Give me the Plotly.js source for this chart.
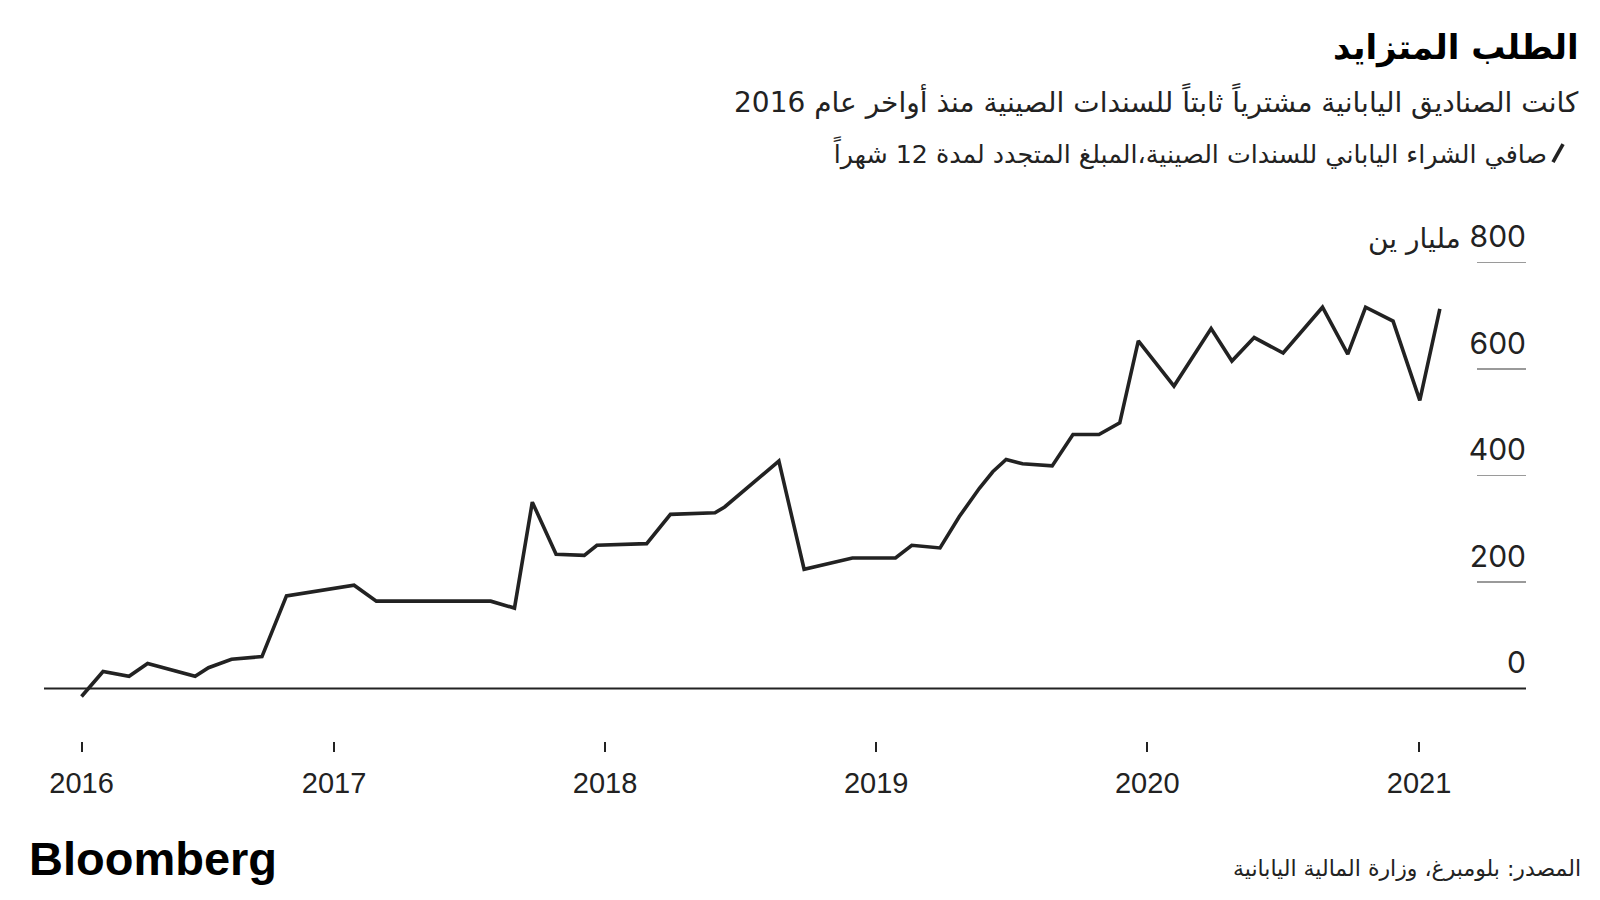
<!DOCTYPE html>
<html>
<head>
<meta charset="utf-8">
<script src="https://cdn.plot.ly/plotly-3.0.1.min.js"></script>
<style>html,body{margin:0;padding:0;background:#fff;}#chart{width:1600px;height:900px;}</style>
</head>
<body>
<div id="chart"></div>
<script>
// Data (12-month rolling net purchase, billion yen)
const dates = ['2016-01-27','2016-02-25','2016-03-31','2016-04-25','2016-06-28','2016-07-16','2016-08-16','2016-09-26','2016-10-29',
  '2017-01-28','2017-02-27','2017-07-31','2017-09-01','2017-09-25','2017-10-27','2017-12-04','2017-12-21',
  '2018-02-26','2018-03-30','2018-05-29','2018-06-11','2018-08-23','2018-09-26','2018-11-30',
  '2019-01-27','2019-02-18','2019-03-28','2019-04-23','2019-05-20','2019-06-07','2019-06-25','2019-07-17','2019-08-26','2019-09-23','2019-10-28','2019-11-25','2019-12-20',
  '2020-02-06','2020-03-27','2020-04-24','2020-05-24','2020-07-02','2020-08-24','2020-09-27','2020-10-21','2020-11-27',
  '2021-01-02','2021-01-29'];
const values = [-15,32,23,47,23,39,55,60,174,
  194,164,164,151,350,252,250,269,
  272,327,330,341,427,224,245,
  245,269,264,323,376,407,430,422,418,477,477,499,653,
  568,676,615,659,630,716,628,716,690,
  541,713];

const xTickVals = ['2016-01-27','2017-01-01','2018-01-01','2019-01-01','2020-01-01','2021-01-01'];
const xTickText = ['2016','2017','2018','2019','2020','2021'];
const yTickVals = [0,200,400,600,800];
const yTickText = ['0','200','400','600','800'];
const yUnit = 'مليار ين';

const titleText = 'الطلب المتزايد';
const subtitleText = 'كانت الصناديق اليابانية مشترياً ثابتاً للسندات الصينية منذ أواخر عام 2016';
const seriesName = 'صافي الشراء الياباني للسندات الصينية،المبلغ المتجدد لمدة 12 شهراً';
const sourceText = 'المصدر: بلومبرغ، وزارة المالية اليابانية';

const numFont = 'Liberation Sans, Arial, DejaVu Sans, sans-serif';
const yFont = 'Inter, Liberation Sans, sans-serif';
const arFont = 'DejaVu Sans, sans-serif';
const ink = '#222222';

const trace = {
  x: dates, y: values, type: 'scatter', mode: 'lines', name: seriesName,
  line: {color: ink, width: 3.6, shape: 'linear'},
  hoverinfo: 'x+y', showlegend: false
};

const layout = {
  width: 1600, height: 900,
  paper_bgcolor: '#ffffff', plot_bgcolor: '#ffffff',
  margin: {l: 44, r: 74, t: 200, b: 159},
  showlegend: false,
  xaxis: {
    type: 'date', range: ['2015-12-07 12:00', '2021-05-25'],
    tickmode: 'array', tickvals: xTickVals, ticktext: xTickText,
    ticks: 'outside', ticklen: 10, tickwidth: 2, tickcolor: ink,
    tickfont: {family: numFont, size: 29, color: ink},
    showgrid: false, zeroline: false, showline: false,
    ticklabelstandoff: 6
  },
  yaxis: {
    side: 'right', range: [-98.6, 917.4],
    tickmode: 'array', tickvals: yTickVals, ticktext: yTickText,
    ticks: 'inside', ticklen: 49, tickwidth: 1.5, tickcolor: '#9a9a9a',
    ticklabelposition: 'inside', ticklabelshift: -26, ticklabelstandoff: -46,
    tickfont: {family: yFont, size: 30, color: ink},
    showgrid: false, showline: false, zeroline: false
  },
  annotations: [
    {text: '<b>' + titleText + '</b>', xref: 'paper', yref: 'paper', x: 1.0372, y: 1.2828,
     xanchor: 'right', yanchor: 'middle', showarrow: false, font: {family: arFont, size: 34, color: '#000'}},
    {text: subtitleText, xref: 'paper', yref: 'paper', x: 1.0372, y: 1.183,
     xanchor: 'right', yanchor: 'middle', showarrow: false, font: {family: arFont, size: 28, color: ink}},
    {text: seriesName, xref: 'paper', yref: 'paper', x: 1.0155, y: 1.0869,
     xanchor: 'right', yanchor: 'middle', showarrow: false, font: {family: arFont, size: 25.3, color: ink}},
    {text: sourceText, xref: 'paper', yref: 'paper', x: 1.0385, y: -0.2348,
     xanchor: 'right', yanchor: 'middle', showarrow: false, font: {family: arFont, size: 22, color: ink}},
    {text: yUnit, xref: 'paper', yref: 'y', x: 0.9575, y: yTickVals[yTickVals.length - 1], yshift: 24,
     xanchor: 'right', yanchor: 'middle', showarrow: false, font: {family: arFont, size: 28, color: ink}},
    {text: '<b>Bloomberg</b>', xref: 'paper', yref: 'paper', x: -0.0115, y: -0.218,
     xanchor: 'left', yanchor: 'middle', showarrow: false, font: {family: 'Liberation Sans, Arial, sans-serif', size: 47, color: '#000'}}
  ],
  shapes: [
    {type: 'line', xref: 'paper', yref: 'y', x0: 0, x1: 1, y0: 0, y1: 0, layer: 'above',
     line: {color: ink, width: 2}},
    {type: 'line', xref: 'paper', yref: 'paper', x0: 1.0182, y0: 1.0702, x1: 1.025, y1: 1.1035,
     line: {color: ink, width: 3.6}}
  ]
};

Plotly.newPlot('chart', [trace], layout, {displayModeBar: false, staticPlot: true});
</script>
</body>
</html>
